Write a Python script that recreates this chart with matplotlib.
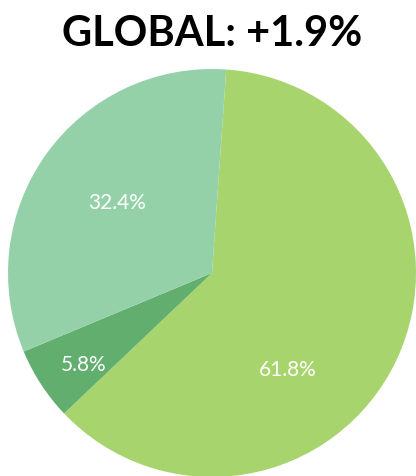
import matplotlib.pyplot as plt
import numpy as np

title = 'GLOBAL: +1.9%'
shares = [61.8, 5.8, 32.4]
labels = ['61.8%', '5.8%', '32.4%']
colors = ['#A8D46E', '#62AE6E', '#94D1A9']

# label placement (radius fraction, angle in degrees) per slice
label_pos = [(0.60, -51.6), (0.77, 215.4), (0.58, 143.0)]

plt.rcParams['font.family'] = ['Lato', 'DejaVu Sans']

fig = plt.figure(figsize=(4.16, 4.77), dpi=100)
ax = fig.add_axes([0, 0, 1, 1])
ax.pie(shares, colors=colors, startangle=86, counterclock=False,
       radius=1.0, wedgeprops=dict(linewidth=0))
ax.set_xlim(-212 / 204, 204 / 204)
ax.set_ylim(-203 / 204, 274 / 204)
ax.set_aspect('equal')
ax.axis('off')

for lab, (r, ang) in zip(labels, label_pos):
    a = np.deg2rad(ang)
    ax.text(r * np.cos(a), r * np.sin(a), lab, color='white', fontsize=15,
            ha='center', va='center')

fig.text(0.51, 0.928, title, ha='center', va='center', fontsize=30,
         fontweight='bold', color='black')

fig.savefig('out.png', dpi=100)
